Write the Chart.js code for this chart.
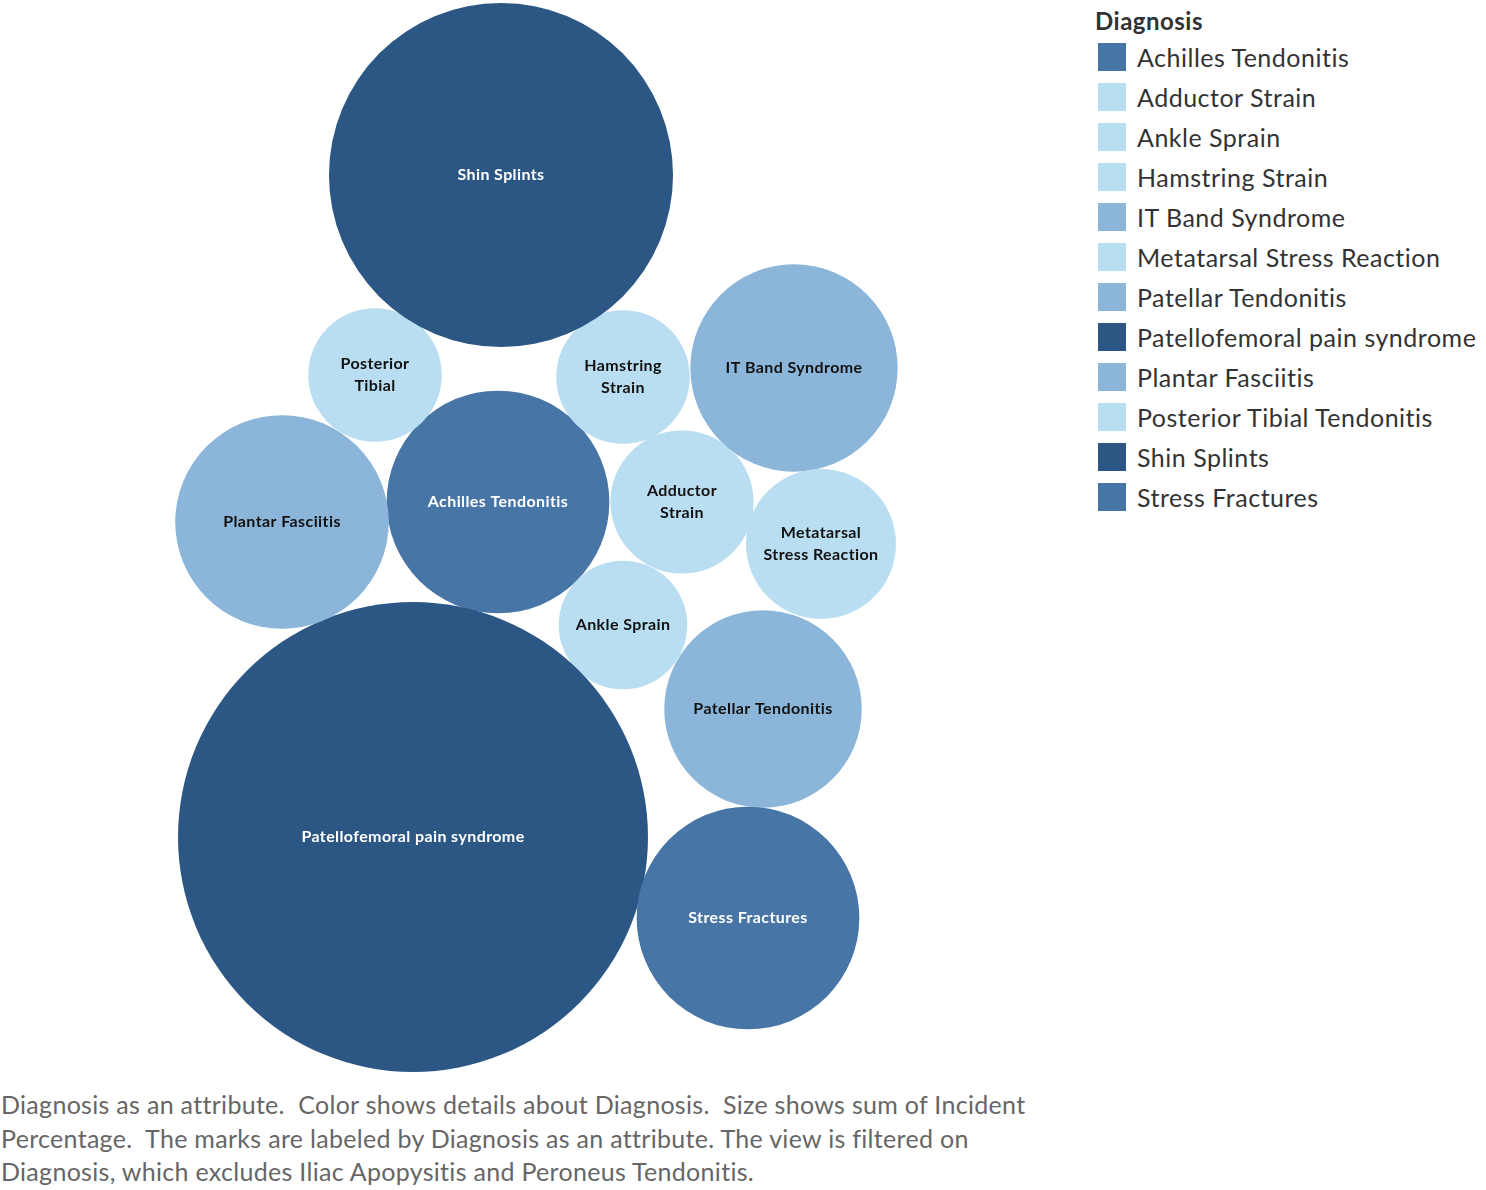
<!DOCTYPE html>
<html>
<head>
<meta charset="utf-8">
<script src="https://cdn.jsdelivr.net/npm/chart.js@4/dist/chart.umd.min.js"></script>
<style>
  body { margin: 0; background: #fff; width: 1486px; height: 1190px; position: relative; overflow: hidden; font-family: 'Lato', 'Open Sans', sans-serif; }
  #wrap { position: absolute; left: 0; top: 0; width: 1000px; height: 1085px; }
  #legend { position: absolute; left: 1095px; top: 4px; color: #333; letter-spacing: 0.5px; }
  #legend .title { font-size: 24px; font-weight: bold; color: #333; height: 33px; line-height: 33px; }
  #legend .item { height: 40px; display: flex; align-items: center; font-size: 25px; }
  #legend .sw { width: 28px; height: 28px; margin-left: 3px; margin-right: 11px; }
  #caption { position: absolute; left: 1px; top: 1088px; font-size: 25px; line-height: 33.5px; color: #666; letter-spacing: 0.3px; white-space: nowrap; }
</style>
</head>
<body>
<div id="wrap"><canvas id="bubbles" width="1000" height="1085"></canvas></div>
<div id="legend"></div>
<div id="caption">Diagnosis as an attribute.&nbsp; Color shows details about Diagnosis.&nbsp; Size shows sum of Incident<br>Percentage.&nbsp; The marks are labeled by Diagnosis as an attribute. The view is filtered on<br>Diagnosis, which excludes Iliac Apopysitis and Peroneus Tendonitis.</div>
<script>
// diagnoses in legend order
const diagnoses = ['Achilles Tendonitis', 'Adductor Strain', 'Ankle Sprain', 'Hamstring Strain',
  'IT Band Syndrome', 'Metatarsal Stress Reaction', 'Patellar Tendonitis',
  'Patellofemoral pain syndrome', 'Plantar Fasciitis', 'Posterior Tibial Tendonitis',
  'Shin Splints', 'Stress Fractures'];
// labels shown inside the bubbles
const bubbleLabels = [['Achilles Tendonitis'], ['Adductor', 'Strain'], ['Ankle Sprain'], ['Hamstring', 'Strain'],
  ['IT Band Syndrome'], ['Metatarsal', 'Stress Reaction'], ['Patellar Tendonitis'],
  ['Patellofemoral pain syndrome'], ['Plantar Fasciitis'], ['Posterior', 'Tibial'],
  ['Shin Splints'], ['Stress Fractures']];
// incident percentage (size)
const incidentPct = [7.5, 3.1, 2.5, 2.7, 6.5, 3.4, 5.9, 33.4, 6.9, 2.7, 17.9, 7.5];
// packed layout position of each bubble
const packX = [498, 682, 623, 623, 794, 821, 763, 413, 282, 375, 501, 748];
const packY = [502, 502, 625, 377, 368, 544, 709, 837, 522, 375, 175, 918];
const colorGroup = [1, 3, 3, 3, 2, 3, 2, 0, 2, 3, 0, 1];

const palette = ['#2c5784', '#4675a6', '#8bb6d9', '#b9ddf1'];
const textColors = ['#ffffff', '#ffffff', '#111111', '#111111'];
const sizeScale = 40.66;

const colors = colorGroup.map(g => palette[g]);

const bubbleLabelPlugin = {
  id: 'bubbleLabels',
  afterDatasetsDraw(chart) {
    const ctx = chart.ctx;
    const meta = chart.getDatasetMeta(0);
    ctx.save();
    ctx.font = 'bold 16px Lato, "Open Sans", sans-serif';
    ctx.letterSpacing = '0.4px';
    ctx.textAlign = 'center';
    ctx.textBaseline = 'middle';
    meta.data.forEach((el, i) => {
      const lines = bubbleLabels[i];
      ctx.fillStyle = textColors[colorGroup[i]];
      const lh = 22;
      const y0 = el.y - (lines.length - 1) * lh / 2;
      lines.forEach((l, j) => ctx.fillText(l, el.x, y0 + j * lh));
    });
    ctx.restore();
  }
};

new Chart(document.getElementById('bubbles'), {
  type: 'bubble',
  data: {
    datasets: [{
      label: 'Diagnosis',
      data: diagnoses.map((d, i) => ({ x: packX[i], y: packY[i], r: sizeScale * Math.sqrt(incidentPct[i]) })),
      backgroundColor: colors,
      borderWidth: 0,
      hoverBorderWidth: 0,
      clip: false
    }]
  },
  options: {
    responsive: false,
    devicePixelRatio: 1,
    animation: false,
    layout: { padding: 0, autoPadding: false },
    plugins: { legend: { display: false }, tooltip: { enabled: false } },
    scales: {
      x: { type: 'linear', min: 0, max: 1000, display: false },
      y: { type: 'linear', min: 0, max: 1085, reverse: true, display: false }
    }
  },
  plugins: [bubbleLabelPlugin]
});

// legend
let html = '<div class="title">Diagnosis</div>';
diagnoses.forEach((d, i) => {
  html += `<div class="item"><span class="sw" style="background:${colors[i]}"></span>${d}</div>`;
});
document.getElementById('legend').innerHTML = html;
</script>
</body>
</html>
